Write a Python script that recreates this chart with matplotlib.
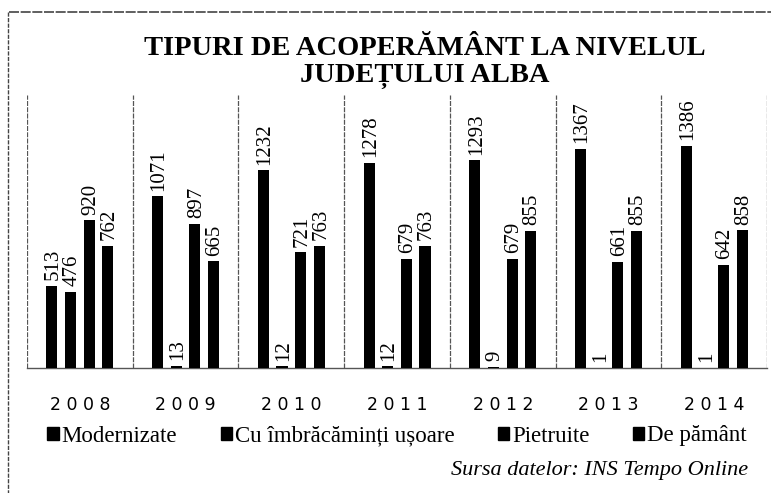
import matplotlib.pyplot as plt
from matplotlib.patches import Patch
from matplotlib.lines import Line2D
import numpy as np

years = ["2008", "2009", "2010", "2011", "2012", "2013", "2014"]
series = ["Modernizate", "Cu îmbrăcăminți ușoare", "Pietruite", "De pământ"]
modernizate = [513, 1071, 1232, 1278, 1293, 1367, 1386]
usoare = [476, 13, 12, 12, 9, 1, 1]
pietruite = [920, 897, 721, 679, 679, 661, 642]
pamant = [762, 665, 763, 763, 855, 855, 858]

title = "TIPURI DE ACOPERĂMÂNT LA NIVELUL\nJUDEȚULUI ALBA"
source = "Sursa datelor: INS Tempo Online"

serif = "Liberation Serif"

fig = plt.figure(figsize=(7.71, 4.93), dpi=100)
ax = fig.add_axes([0.035, 0.2535, 0.96, 0.5535])

x = np.arange(len(years))
step = 0.176
width = 0.105
for i, vals in enumerate([modernizate, usoare, pietruite, pamant]):
    pos = x + (i - 1.5) * step
    bars = ax.bar(pos, vals, width=width, color="black", zorder=3)
    for b, v in zip(bars, vals):
        ax.annotate(str(v), (b.get_x() + b.get_width() / 2, v),
                    xytext=(1, 4), textcoords="offset points",
                    rotation=90, ha="center", va="bottom",
                    fontsize=15, family=serif)

ax.set_xlim(-0.5, len(years) - 0.5)
ax.set_ylim(0, 1700)
ax.set_yticks([])
ax.set_xticks(x)
ax.set_xticklabels([" ".join(y) for y in years], fontsize=12.5,
                   family="DejaVu Sans")
ax.tick_params(axis="x", length=0, pad=20)
for s in ["top", "left", "right"]:
    ax.spines[s].set_visible(False)
ax.spines["bottom"].set_linestyle((0, (3, 1)))
ax.spines["bottom"].set_color("#555555")
ax.spines["bottom"].set_linewidth(1)

# group separators
for b in np.arange(-0.5, len(years), 1.0):
    ax.axvline(b, color="#555555", linestyle=(0, (4, 1)), linewidth=0.9,
               zorder=1)

fig.text(0.551, 0.873, title, ha="center", va="center", fontsize=20.5,
         fontweight="bold", family=serif, linespacing=1.12)

handles = [Patch(facecolor="black", edgecolor="black") for _ in series]
fig.legend(handles, series, loc="center", bbox_to_anchor=(0.515, 1 - 436 / 493),
           ncol=4, frameon=False, prop={"family": serif, "size": 16.5},
           handlelength=0.5, handleheight=0.5, handletextpad=0.12,
           columnspacing=1.9, borderaxespad=0, borderpad=0)

fig.text(0.970, 1 - 470 / 493, source, ha="right", va="center",
         fontsize=16, style="italic", family=serif)

# scanned page frame
fig.add_artist(Line2D([0.012, 1.0], [0.976, 0.976], color="#444444",
                      linewidth=1.2, linestyle=(0, (6, 1))))
fig.add_artist(Line2D([0.011, 0.011], [0.976, 0.0], color="#444444",
                      linewidth=1.0, linestyle=(0, (3, 1))))

fig.savefig("out.png", dpi=100)
